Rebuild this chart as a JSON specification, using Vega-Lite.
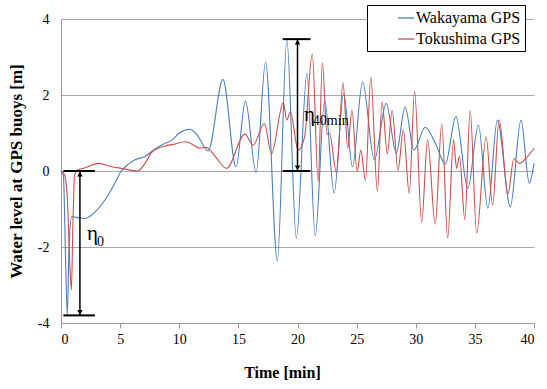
{
  "$schema": "https://vega.github.io/schema/vega-lite/v6.json",
  "width": 473,
  "height": 304,
  "autosize": {"type": "none"},
  "padding": {"left": 61, "top": 19, "right": 13, "bottom": 66},
  "background": "white",
  "config": {
    "view": {"stroke": null},
    "font": "Liberation Serif",
    "axis": {"labelFont": "Liberation Serif", "titleFont": "Liberation Serif", "labelColor": "black", "titleColor": "black", "domainColor": "#9a9a9a", "tickColor": "#9a9a9a", "gridColor": "#a8a8a8"},
    "legend": {"labelFont": "Liberation Serif"}
  },
  "datasets": {
    "series": [
      {"series": "Wakayama GPS", "t": 0, "v": 0},
      {"series": "Wakayama GPS", "t": 0.2, "v": -0.1},
      {"series": "Wakayama GPS", "t": 0.4, "v": -2.5},
      {"series": "Wakayama GPS", "t": 0.53, "v": -3.8},
      {"series": "Wakayama GPS", "t": 0.68, "v": -2.0},
      {"series": "Wakayama GPS", "t": 0.9, "v": -1.2},
      {"series": "Wakayama GPS", "t": 1.3, "v": -1.22},
      {"series": "Wakayama GPS", "t": 2.0, "v": -1.25},
      {"series": "Wakayama GPS", "t": 2.8, "v": -1.1},
      {"series": "Wakayama GPS", "t": 3.7, "v": -0.77},
      {"series": "Wakayama GPS", "t": 4.5, "v": -0.35},
      {"series": "Wakayama GPS", "t": 5.1, "v": 0},
      {"series": "Wakayama GPS", "t": 5.8, "v": 0.2},
      {"series": "Wakayama GPS", "t": 6.3, "v": 0.3},
      {"series": "Wakayama GPS", "t": 7.1, "v": 0.38},
      {"series": "Wakayama GPS", "t": 7.9, "v": 0.57},
      {"series": "Wakayama GPS", "t": 8.6, "v": 0.7},
      {"series": "Wakayama GPS", "t": 9.4, "v": 0.82},
      {"series": "Wakayama GPS", "t": 10.0, "v": 1.0},
      {"series": "Wakayama GPS", "t": 10.9, "v": 1.1},
      {"series": "Wakayama GPS", "t": 11.5, "v": 0.95},
      {"series": "Wakayama GPS", "t": 12.45, "v": 0.53},
      {"series": "Wakayama GPS", "t": 13.7, "v": 2.41},
      {"series": "Wakayama GPS", "t": 14.8, "v": 0.11},
      {"series": "Wakayama GPS", "t": 15.6, "v": 1.84},
      {"series": "Wakayama GPS", "t": 16.5, "v": -0.04},
      {"series": "Wakayama GPS", "t": 17.3, "v": 2.86},
      {"series": "Wakayama GPS", "t": 18.3, "v": -2.37},
      {"series": "Wakayama GPS", "t": 19.1, "v": 3.45},
      {"series": "Wakayama GPS", "t": 19.9, "v": -1.77},
      {"series": "Wakayama GPS", "t": 20.8, "v": 2.57},
      {"series": "Wakayama GPS", "t": 21.5, "v": -1.71},
      {"series": "Wakayama GPS", "t": 22.3, "v": 1.85},
      {"series": "Wakayama GPS", "t": 23.1, "v": -0.58},
      {"series": "Wakayama GPS", "t": 23.9, "v": 2.04},
      {"series": "Wakayama GPS", "t": 24.65, "v": 0.11},
      {"series": "Wakayama GPS", "t": 25.5, "v": 2.35},
      {"series": "Wakayama GPS", "t": 26.5, "v": 0.29},
      {"series": "Wakayama GPS", "t": 27.5, "v": 1.78},
      {"series": "Wakayama GPS", "t": 28.35, "v": 0.47},
      {"series": "Wakayama GPS", "t": 29.1, "v": 1.68},
      {"series": "Wakayama GPS", "t": 29.85, "v": 0.55},
      {"series": "Wakayama GPS", "t": 30.8, "v": 1.15},
      {"series": "Wakayama GPS", "t": 31.7, "v": 0.7},
      {"series": "Wakayama GPS", "t": 32.5, "v": 0.18},
      {"series": "Wakayama GPS", "t": 33.4, "v": 1.43},
      {"series": "Wakayama GPS", "t": 34.4, "v": -0.46},
      {"series": "Wakayama GPS", "t": 35.3, "v": 1.21},
      {"series": "Wakayama GPS", "t": 36.1, "v": -0.98},
      {"series": "Wakayama GPS", "t": 36.9, "v": 1.34},
      {"series": "Wakayama GPS", "t": 38.0, "v": -0.94},
      {"series": "Wakayama GPS", "t": 38.9, "v": 1.34},
      {"series": "Wakayama GPS", "t": 39.6, "v": -0.32},
      {"series": "Wakayama GPS", "t": 40.0, "v": 0.2},
      {"series": "Tokushima GPS", "t": 0, "v": 0},
      {"series": "Tokushima GPS", "t": 0.3, "v": -0.1},
      {"series": "Tokushima GPS", "t": 0.55, "v": -0.8},
      {"series": "Tokushima GPS", "t": 0.75, "v": -2.5},
      {"series": "Tokushima GPS", "t": 0.88, "v": -3.13},
      {"series": "Tokushima GPS", "t": 1.0, "v": -1.5},
      {"series": "Tokushima GPS", "t": 1.15, "v": -0.1},
      {"series": "Tokushima GPS", "t": 1.4, "v": 0.02},
      {"series": "Tokushima GPS", "t": 2.0, "v": 0.08},
      {"series": "Tokushima GPS", "t": 3.2, "v": 0.2},
      {"series": "Tokushima GPS", "t": 4.2, "v": 0.12},
      {"series": "Tokushima GPS", "t": 5.1, "v": 0.07},
      {"series": "Tokushima GPS", "t": 6.5, "v": 0.0},
      {"series": "Tokushima GPS", "t": 7.1, "v": 0.2},
      {"series": "Tokushima GPS", "t": 7.7, "v": 0.5},
      {"series": "Tokushima GPS", "t": 8.8, "v": 0.66},
      {"series": "Tokushima GPS", "t": 9.5, "v": 0.7},
      {"series": "Tokushima GPS", "t": 10.5, "v": 0.77},
      {"series": "Tokushima GPS", "t": 11.0, "v": 0.72},
      {"series": "Tokushima GPS", "t": 11.75, "v": 0.6},
      {"series": "Tokushima GPS", "t": 12.3, "v": 0.62},
      {"series": "Tokushima GPS", "t": 13.0, "v": 0.4},
      {"series": "Tokushima GPS", "t": 14.0, "v": 0.07},
      {"series": "Tokushima GPS", "t": 15.55, "v": 0.97},
      {"series": "Tokushima GPS", "t": 16.25, "v": 0.68},
      {"series": "Tokushima GPS", "t": 17.2, "v": 1.25},
      {"series": "Tokushima GPS", "t": 17.8, "v": 0.46},
      {"series": "Tokushima GPS", "t": 18.8, "v": 1.8},
      {"series": "Tokushima GPS", "t": 19.1, "v": 1.34},
      {"series": "Tokushima GPS", "t": 19.4, "v": 1.56},
      {"series": "Tokushima GPS", "t": 20.05, "v": 0.55},
      {"series": "Tokushima GPS", "t": 20.6, "v": 0.9},
      {"series": "Tokushima GPS", "t": 21.25, "v": 3.08},
      {"series": "Tokushima GPS", "t": 21.75, "v": -0.28},
      {"series": "Tokushima GPS", "t": 22.1, "v": 2.85},
      {"series": "Tokushima GPS", "t": 22.5, "v": 0.97},
      {"series": "Tokushima GPS", "t": 22.7, "v": 1.0},
      {"series": "Tokushima GPS", "t": 23.3, "v": -0.05},
      {"series": "Tokushima GPS", "t": 23.85, "v": 2.32},
      {"series": "Tokushima GPS", "t": 24.25, "v": 0.6},
      {"series": "Tokushima GPS", "t": 24.6, "v": 1.6},
      {"series": "Tokushima GPS", "t": 25.05, "v": -0.02},
      {"series": "Tokushima GPS", "t": 25.35, "v": 0.55},
      {"series": "Tokushima GPS", "t": 25.75, "v": -0.25},
      {"series": "Tokushima GPS", "t": 26.2, "v": 2.48},
      {"series": "Tokushima GPS", "t": 26.75, "v": -0.53},
      {"series": "Tokushima GPS", "t": 27.15, "v": 1.82},
      {"series": "Tokushima GPS", "t": 27.6, "v": 0.45},
      {"series": "Tokushima GPS", "t": 28.0, "v": 1.6},
      {"series": "Tokushima GPS", "t": 28.5, "v": 0.02},
      {"series": "Tokushima GPS", "t": 28.95, "v": 1.08},
      {"series": "Tokushima GPS", "t": 29.45, "v": -0.59},
      {"series": "Tokushima GPS", "t": 29.9, "v": 2.09},
      {"series": "Tokushima GPS", "t": 30.5, "v": -1.35},
      {"series": "Tokushima GPS", "t": 31.0, "v": 0.82},
      {"series": "Tokushima GPS", "t": 31.65, "v": -1.4},
      {"series": "Tokushima GPS", "t": 32.2, "v": 1.25},
      {"series": "Tokushima GPS", "t": 32.7, "v": -1.77},
      {"series": "Tokushima GPS", "t": 33.2, "v": 0.82},
      {"series": "Tokushima GPS", "t": 33.45, "v": 0.07},
      {"series": "Tokushima GPS", "t": 33.7, "v": 0.39},
      {"series": "Tokushima GPS", "t": 34.15, "v": -1.28},
      {"series": "Tokushima GPS", "t": 34.6, "v": 1.6},
      {"series": "Tokushima GPS", "t": 35.15, "v": -1.64},
      {"series": "Tokushima GPS", "t": 35.95, "v": 0.9},
      {"series": "Tokushima GPS", "t": 36.5, "v": -0.9},
      {"series": "Tokushima GPS", "t": 37.05, "v": 1.35},
      {"series": "Tokushima GPS", "t": 37.8, "v": -0.6},
      {"series": "Tokushima GPS", "t": 38.3, "v": 0.33},
      {"series": "Tokushima GPS", "t": 38.75, "v": 0.2},
      {"series": "Tokushima GPS", "t": 39.3, "v": 0.33},
      {"series": "Tokushima GPS", "t": 40.0, "v": 0.6}
    ],
    "bars": [
      {"t": 0.2, "t2": 2.87, "v": 0},
      {"t": 0.2, "t2": 2.87, "v": -3.8},
      {"t": 18.74, "t2": 21.1, "v": 3.47},
      {"t": 18.74, "t2": 21.1, "v": 0}
    ],
    "shafts": [
      {"t": 1.6, "v": 0, "v2": -3.8},
      {"t": 20.0, "v": 3.47, "v2": 0}
    ],
    "heads": [
      {"t": 1.6, "v": -0.08, "end": "top"},
      {"t": 1.6, "v": -3.72, "end": "bottom"},
      {"t": 20.0, "v": 3.39, "end": "top"},
      {"t": 20.0, "v": 0.08, "end": "bottom"}
    ],
    "labels": [
      {"t": 2.2, "v": -1.82, "txt": "η", "kind": "main"},
      {"t": 3.04, "v": -1.97, "txt": "0", "kind": "sub"},
      {"t": 20.54, "v": 1.32, "txt": "η", "kind": "main"},
      {"t": 21.3, "v": 1.21, "txt": "40min", "kind": "sub"}
    ]
  },
  "layer": [
    {
      "data": {"name": "series"},
      "mark": {"type": "line", "interpolate": "monotone", "strokeWidth": 1.1},
      "encoding": {
        "x": {"field": "t", "type": "quantitative", "scale": {"domain": [0, 40], "nice": false},
          "axis": {"values": [0, 5, 10, 15, 20, 25, 30, 35, 40], "title": "Time [min]", "titleFont": "Liberation Serif", "titleFontSize": 16, "titleFontWeight": "bold", "labelFont": "Liberation Serif", "labelFontSize": 14, "tickSize": 5, "labelPadding": 4, "titlePadding": 18, "grid": false, "titleX": 221}},
        "y": {"field": "v", "type": "quantitative", "scale": {"domain": [-4, 4], "nice": false},
          "axis": {"values": [-4, -2, 0, 2, 4], "title": "Water level at GPS buoys [m]", "titleFont": "Liberation Serif", "titleFontSize": 17, "titleFontWeight": "bold", "labelFont": "Liberation Serif", "labelFontSize": 14, "ticks": false, "labelPadding": 12, "titlePadding": 12, "grid": true, "labelExpr": "'' + datum.value"}},
        "color": {"field": "series", "type": "nominal", "sort": ["Wakayama GPS", "Tokushima GPS"],
          "scale": {"domain": ["Wakayama GPS", "Tokushima GPS"], "range": ["#4A7EBB", "#C8504D"]},
          "legend": {"title": null, "orient": "none", "legendX": 306, "legendY": -14, "strokeColor": "black", "fillColor": "white", "padding": 4, "symbolType": "stroke", "symbolSize": 256, "symbolStrokeWidth": 1.3, "symbolOffset": 26, "labelFont": "Liberation Serif", "labelFontSize": 16, "labelColor": "black", "rowPadding": 4, "labelOffset": 1, "labelLimit": 300, "labelExpr": "datum.label + '\u2003\u2003\u2003'"}}
      }
    },
    {
      "data": {"name": "bars"},
      "mark": {"type": "rule", "color": "black", "strokeWidth": 2},
      "encoding": {"x": {"field": "t", "type": "quantitative"}, "x2": {"field": "t2"}, "y": {"field": "v", "type": "quantitative"}}
    },
    {
      "data": {"name": "shafts"},
      "mark": {"type": "rule", "color": "black", "strokeWidth": 1.5},
      "encoding": {"x": {"field": "t", "type": "quantitative"}, "y": {"field": "v", "type": "quantitative"}, "y2": {"field": "v2"}}
    },
    {
      "data": {"name": "heads"},
      "transform": [{"filter": "datum.end === 'top'"}],
      "mark": {"type": "point", "shape": "triangle-up", "filled": true, "color": "black", "size": 30, "opacity": 1},
      "encoding": {"x": {"field": "t", "type": "quantitative"}, "y": {"field": "v", "type": "quantitative"}}
    },
    {
      "data": {"name": "heads"},
      "transform": [{"filter": "datum.end === 'bottom'"}],
      "mark": {"type": "point", "shape": "triangle-down", "filled": true, "color": "black", "size": 30, "opacity": 1},
      "encoding": {"x": {"field": "t", "type": "quantitative"}, "y": {"field": "v", "type": "quantitative"}}
    },
    {
      "data": {"name": "labels"},
      "transform": [{"filter": "datum.kind === 'main'"}],
      "mark": {"type": "text", "align": "left", "baseline": "alphabetic", "font": "Liberation Serif", "fontSize": 21, "color": "black"},
      "encoding": {"x": {"field": "t", "type": "quantitative"}, "y": {"field": "v", "type": "quantitative"}, "text": {"field": "txt"}}
    },
    {
      "data": {"name": "labels"},
      "transform": [{"filter": "datum.kind === 'sub'"}],
      "mark": {"type": "text", "align": "left", "baseline": "alphabetic", "font": "Liberation Serif", "fontSize": 14, "color": "black"},
      "encoding": {"x": {"field": "t", "type": "quantitative"}, "y": {"field": "v", "type": "quantitative"}, "text": {"field": "txt"}}
    }
  ]
}
